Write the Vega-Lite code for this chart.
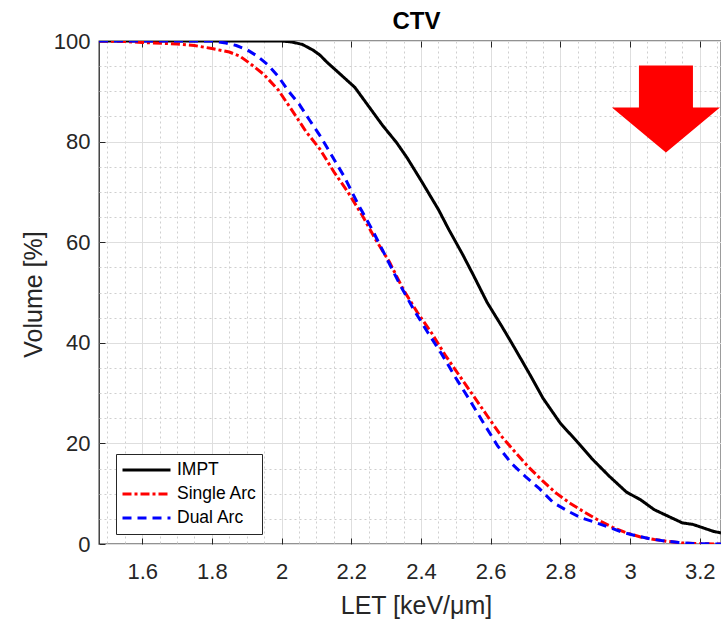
{
  "$schema": "https://vega.github.io/schema/vega-lite/v6.json",
  "autosize": {"type": "none"},
  "padding": {"left": 99, "top": 41, "right": 0, "bottom": 79},
  "width": 622,
  "height": 503,
  "background": "white",
  "config": {
    "view": {"stroke": "#262626", "strokeWidth": 1.3},
    "axis": {
      "labelFont": "Liberation Sans", "labelFontSize": 22, "labelColor": "#262626",
      "titleFont": "Liberation Sans", "titleFontWeight": "normal", "titleColor": "#262626",
      "domainColor": "#262626", "tickColor": "#262626", "gridColor": "#dedede", "gridWidth": 1
    },
    "legend": {"title": null, "orient": "none", "legendX": 17, "legendY": 413,
      "symbolType": "stroke", "symbolSize": 2304, "symbolStrokeWidth": 3, "clipHeight": 22, "rowPadding": 2,
      "labelFont": "Liberation Sans", "labelFontSize": 17.5, "labelColor": "#000000", "labelOffset": 5,
      "strokeColor": "#262626", "fillColor": "white", "padding": 5, "cornerRadius": 0}
  },
  "datasets": {
    "dvh": [
        {"series": "IMPT", "LET": 1.476, "Volume": 100},
        {"series": "IMPT", "LET": 1.7, "Volume": 100},
        {"series": "IMPT", "LET": 1.9, "Volume": 100},
        {"series": "IMPT", "LET": 2.0, "Volume": 100},
        {"series": "IMPT", "LET": 2.03, "Volume": 99.8},
        {"series": "IMPT", "LET": 2.06, "Volume": 99.3},
        {"series": "IMPT", "LET": 2.09, "Volume": 98.2},
        {"series": "IMPT", "LET": 2.11, "Volume": 97.2},
        {"series": "IMPT", "LET": 2.13, "Volume": 95.8},
        {"series": "IMPT", "LET": 2.17, "Volume": 93.3},
        {"series": "IMPT", "LET": 2.21, "Volume": 90.8},
        {"series": "IMPT", "LET": 2.25, "Volume": 87},
        {"series": "IMPT", "LET": 2.29, "Volume": 83.2},
        {"series": "IMPT", "LET": 2.33, "Volume": 79.8},
        {"series": "IMPT", "LET": 2.36, "Volume": 76.8},
        {"series": "IMPT", "LET": 2.40, "Volume": 72.3},
        {"series": "IMPT", "LET": 2.45, "Volume": 66.5},
        {"series": "IMPT", "LET": 2.48, "Volume": 62.5},
        {"series": "IMPT", "LET": 2.52, "Volume": 57.5},
        {"series": "IMPT", "LET": 2.55, "Volume": 53.5},
        {"series": "IMPT", "LET": 2.59, "Volume": 48},
        {"series": "IMPT", "LET": 2.63, "Volume": 43.5},
        {"series": "IMPT", "LET": 2.66, "Volume": 40},
        {"series": "IMPT", "LET": 2.71, "Volume": 34},
        {"series": "IMPT", "LET": 2.75, "Volume": 29},
        {"series": "IMPT", "LET": 2.80, "Volume": 24},
        {"series": "IMPT", "LET": 2.85, "Volume": 20.2},
        {"series": "IMPT", "LET": 2.89, "Volume": 17},
        {"series": "IMPT", "LET": 2.94, "Volume": 13.5},
        {"series": "IMPT", "LET": 2.99, "Volume": 10.3},
        {"series": "IMPT", "LET": 3.03, "Volume": 8.8},
        {"series": "IMPT", "LET": 3.07, "Volume": 6.8},
        {"series": "IMPT", "LET": 3.11, "Volume": 5.5},
        {"series": "IMPT", "LET": 3.15, "Volume": 4.2},
        {"series": "IMPT", "LET": 3.18, "Volume": 3.9},
        {"series": "IMPT", "LET": 3.21, "Volume": 3.2},
        {"series": "IMPT", "LET": 3.24, "Volume": 2.5},
        {"series": "IMPT", "LET": 3.261, "Volume": 2.2},
        {"series": "Single Arc", "LET": 1.476, "Volume": 100},
        {"series": "Single Arc", "LET": 1.55, "Volume": 99.9},
        {"series": "Single Arc", "LET": 1.6, "Volume": 99.7},
        {"series": "Single Arc", "LET": 1.7, "Volume": 99.4},
        {"series": "Single Arc", "LET": 1.75, "Volume": 99.1},
        {"series": "Single Arc", "LET": 1.8, "Volume": 98.5},
        {"series": "Single Arc", "LET": 1.85, "Volume": 97.8},
        {"series": "Single Arc", "LET": 1.88, "Volume": 97},
        {"series": "Single Arc", "LET": 1.91, "Volume": 95.5},
        {"series": "Single Arc", "LET": 1.95, "Volume": 93.3},
        {"series": "Single Arc", "LET": 1.99, "Volume": 90.3},
        {"series": "Single Arc", "LET": 2.03, "Volume": 86.2},
        {"series": "Single Arc", "LET": 2.07, "Volume": 82},
        {"series": "Single Arc", "LET": 2.11, "Volume": 78.5},
        {"series": "Single Arc", "LET": 2.15, "Volume": 74},
        {"series": "Single Arc", "LET": 2.19, "Volume": 70},
        {"series": "Single Arc", "LET": 2.23, "Volume": 65.5},
        {"series": "Single Arc", "LET": 2.27, "Volume": 60.5},
        {"series": "Single Arc", "LET": 2.31, "Volume": 56},
        {"series": "Single Arc", "LET": 2.35, "Volume": 50.5},
        {"series": "Single Arc", "LET": 2.39, "Volume": 46},
        {"series": "Single Arc", "LET": 2.43, "Volume": 42},
        {"series": "Single Arc", "LET": 2.47, "Volume": 37.5},
        {"series": "Single Arc", "LET": 2.51, "Volume": 33.5},
        {"series": "Single Arc", "LET": 2.55, "Volume": 29.5},
        {"series": "Single Arc", "LET": 2.59, "Volume": 25.5},
        {"series": "Single Arc", "LET": 2.63, "Volume": 21.5},
        {"series": "Single Arc", "LET": 2.67, "Volume": 18.3},
        {"series": "Single Arc", "LET": 2.71, "Volume": 15.2},
        {"series": "Single Arc", "LET": 2.75, "Volume": 12.5},
        {"series": "Single Arc", "LET": 2.79, "Volume": 10},
        {"series": "Single Arc", "LET": 2.83, "Volume": 8},
        {"series": "Single Arc", "LET": 2.87, "Volume": 6.3},
        {"series": "Single Arc", "LET": 2.91, "Volume": 4.7},
        {"series": "Single Arc", "LET": 2.95, "Volume": 3.3},
        {"series": "Single Arc", "LET": 2.99, "Volume": 2.2},
        {"series": "Single Arc", "LET": 3.03, "Volume": 1.4},
        {"series": "Single Arc", "LET": 3.07, "Volume": 0.9},
        {"series": "Single Arc", "LET": 3.11, "Volume": 0.5},
        {"series": "Single Arc", "LET": 3.15, "Volume": 0.2},
        {"series": "Single Arc", "LET": 3.2, "Volume": 0.05},
        {"series": "Single Arc", "LET": 3.261, "Volume": 0},
        {"series": "Dual Arc", "LET": 1.476, "Volume": 100},
        {"series": "Dual Arc", "LET": 1.8, "Volume": 100},
        {"series": "Dual Arc", "LET": 1.84, "Volume": 99.6},
        {"series": "Dual Arc", "LET": 1.87, "Volume": 99.1},
        {"series": "Dual Arc", "LET": 1.9, "Volume": 98.3},
        {"series": "Dual Arc", "LET": 1.93, "Volume": 97},
        {"series": "Dual Arc", "LET": 1.96, "Volume": 95.3},
        {"series": "Dual Arc", "LET": 1.99, "Volume": 93},
        {"series": "Dual Arc", "LET": 2.02, "Volume": 90},
        {"series": "Dual Arc", "LET": 2.05, "Volume": 87.5},
        {"series": "Dual Arc", "LET": 2.08, "Volume": 84.3},
        {"series": "Dual Arc", "LET": 2.11, "Volume": 81.2},
        {"series": "Dual Arc", "LET": 2.14, "Volume": 77.7},
        {"series": "Dual Arc", "LET": 2.18, "Volume": 73},
        {"series": "Dual Arc", "LET": 2.22, "Volume": 67.5},
        {"series": "Dual Arc", "LET": 2.26, "Volume": 62.5},
        {"series": "Dual Arc", "LET": 2.30, "Volume": 57},
        {"series": "Dual Arc", "LET": 2.34, "Volume": 51.5},
        {"series": "Dual Arc", "LET": 2.38, "Volume": 46.5},
        {"series": "Dual Arc", "LET": 2.42, "Volume": 42},
        {"series": "Dual Arc", "LET": 2.46, "Volume": 37.7},
        {"series": "Dual Arc", "LET": 2.50, "Volume": 33},
        {"series": "Dual Arc", "LET": 2.54, "Volume": 28.6},
        {"series": "Dual Arc", "LET": 2.58, "Volume": 24},
        {"series": "Dual Arc", "LET": 2.62, "Volume": 19.5},
        {"series": "Dual Arc", "LET": 2.66, "Volume": 16},
        {"series": "Dual Arc", "LET": 2.70, "Volume": 13.4},
        {"series": "Dual Arc", "LET": 2.74, "Volume": 11},
        {"series": "Dual Arc", "LET": 2.78, "Volume": 8.2},
        {"series": "Dual Arc", "LET": 2.82, "Volume": 6.6},
        {"series": "Dual Arc", "LET": 2.86, "Volume": 5.2},
        {"series": "Dual Arc", "LET": 2.90, "Volume": 4.3},
        {"series": "Dual Arc", "LET": 2.94, "Volume": 3.3},
        {"series": "Dual Arc", "LET": 2.98, "Volume": 2.3},
        {"series": "Dual Arc", "LET": 3.02, "Volume": 1.6},
        {"series": "Dual Arc", "LET": 3.06, "Volume": 1.0},
        {"series": "Dual Arc", "LET": 3.10, "Volume": 0.6},
        {"series": "Dual Arc", "LET": 3.14, "Volume": 0.3},
        {"series": "Dual Arc", "LET": 3.18, "Volume": 0.1},
        {"series": "Dual Arc", "LET": 3.261, "Volume": 0}
    ],
    "arrow": [{"LET": 3.103, "Volume": 86.5}]
  },
  "resolve": {"axis": {"x": "independent", "y": "independent"}},
  "layer": [
    {
      "data": {"name": "arrow"},
      "mark": {"type": "point", "filled": true, "color": "#ff0000", "opacity": 1, "size": 11664, "strokeWidth": 0,
        "shape": "M-0.5,-0.806L0.5,-0.806L0.5,-0.028L1,-0.028L0,0.806L-1,-0.028L-0.5,-0.028Z"},
      "encoding": {
        "x": {"field": "LET", "type": "quantitative",
          "scale": {"domain": [1.476, 3.261], "nice": false, "zero": false},
          "axis": {"orient": "bottom", "values": [1.5, 1.55, 1.65, 1.7, 1.75, 1.85, 1.9, 1.95, 2.05, 2.1, 2.15, 2.25, 2.3, 2.35, 2.45, 2.5, 2.55, 2.65, 2.7, 2.75, 2.85, 2.9, 2.95, 3.05, 3.1, 3.15, 3.25],
            "grid": true, "gridDash": [2, 3], "gridColor": "#cfcfcf", "ticks": false, "labels": false, "domain": false, "title": null, "minExtent": 0, "maxExtent": 0}},
        "y": {"field": "Volume", "type": "quantitative",
          "scale": {"domain": [0, 100], "nice": false},
          "axis": {"orient": "left", "values": [5, 10, 15, 25, 30, 35, 45, 50, 55, 65, 70, 75, 85, 90, 95],
            "grid": true, "gridDash": [2, 3], "gridColor": "#cfcfcf", "ticks": false, "labels": false, "domain": false, "title": null, "minExtent": 0, "maxExtent": 0}}
      }
    },
    {
      "data": {"name": "dvh"},
      "transform": [{"filter": "datum.series === 'IMPT'"}],
      "mark": {"type": "line", "strokeWidth": 3, "clip": true},
      "encoding": {
        "x": {"field": "LET", "type": "quantitative",
          "scale": {"domain": [1.476, 3.261], "nice": false, "zero": false},
          "axis": {"orient": "bottom", "values": [1.6, 1.8, 2, 2.2, 2.4, 2.6, 2.8, 3, 3.2], "format": "~g",
            "grid": true, "tickSize": -6, "labelPadding": 23, "domain": false,
            "title": "LET [keV/μm]", "titleFontSize": 25, "titleX": 317, "titleY": 69, "titleBaseline": "alphabetic"}},
        "y": {"field": "Volume", "type": "quantitative",
          "scale": {"domain": [0, 100], "nice": false},
          "axis": {"orient": "left", "values": [0, 20, 40, 60, 80, 100],
            "grid": true, "tickSize": -6, "labelPadding": 15, "domain": false,
            "title": "Volume [%]", "titleFontSize": 25, "titleX": -66, "titleY": 253, "titleBaseline": "middle", "titleAngle": -90}},
        "color": {"field": "series", "type": "nominal",
          "scale": {"domain": ["IMPT", "Single Arc", "Dual Arc"], "range": ["#000000", "#ff0000", "#0000ff"]}},
        "strokeDash": {"field": "series", "type": "nominal",
          "scale": {"domain": ["IMPT", "Single Arc", "Dual Arc"], "range": [[1, 0], [9, 3, 3, 3], [9, 6]]}}
      }
    },
    {
      "data": {"name": "dvh"},
      "transform": [{"filter": "datum.series !== 'IMPT'"}],
      "mark": {"type": "line", "strokeWidth": 3, "clip": true},
      "encoding": {
        "x": {"field": "LET", "type": "quantitative",
          "scale": {"domain": [1.476, 3.261], "nice": false, "zero": false},
          "axis": {"orient": "top", "values": [1.6, 1.8, 2, 2.2, 2.4, 2.6, 2.8, 3, 3.2],
            "grid": false, "tickSize": -6, "labels": false, "domain": false,
            "title": "CTV", "titleFontSize": 24, "titleFontWeight": "bold", "titleColor": "#000000",
            "titleX": 317, "titleY": -12.5, "titleBaseline": "alphabetic", "titleAlign": "center"}},
        "y": {"field": "Volume", "type": "quantitative",
          "scale": {"domain": [0, 100], "nice": false},
          "axis": null},
        "color": {"field": "series", "type": "nominal",
          "scale": {"domain": ["IMPT", "Single Arc", "Dual Arc"], "range": ["#000000", "#ff0000", "#0000ff"]}},
        "strokeDash": {"field": "series", "type": "nominal",
          "scale": {"domain": ["IMPT", "Single Arc", "Dual Arc"], "range": [[1, 0], [9, 3, 3, 3], [9, 6]]}}
      }
    }
  ]
}
